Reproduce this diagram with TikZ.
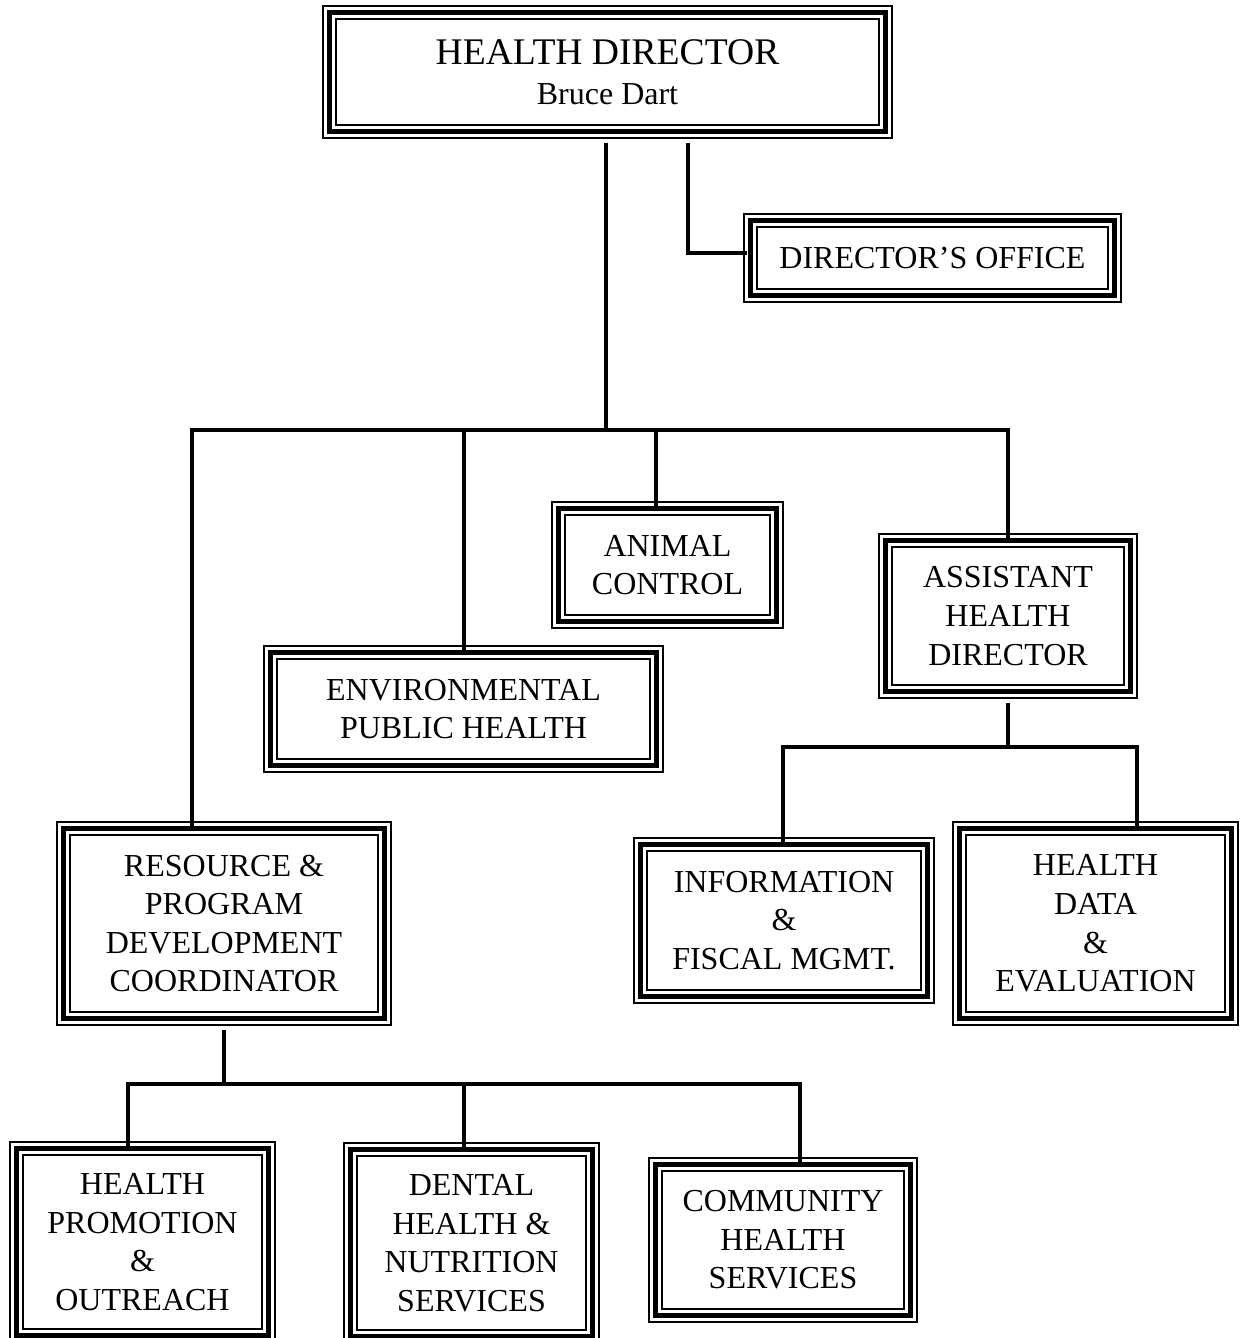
\documentclass[tikz,border=0pt]{standalone}
\usepackage{fontspec}
\setmainfont{Liberation Serif}
\begin{document}
\begin{tikzpicture}[x=0.5pt,y=-0.5pt]
\tikzset{
  frame/.style={draw, line width=0.65pt, rectangle, inner sep=0pt, align=center,
    font=\fontsize{16}{19.3}\selectfont,
    path picture={
      \draw[line width=2.2pt] ([shift={(3.3pt,-3.3pt)}]path picture bounding box.north west) rectangle ([shift={(-3.3pt,3.3pt)}]path picture bounding box.south east);
      \draw[line width=1.1pt] ([shift={(6.6pt,-6.6pt)}]path picture bounding box.north west) rectangle ([shift={(-6.6pt,6.6pt)}]path picture bounding box.south east);
    }},
  conn/.style={line width=1.6pt, line join=miter},
}
\fill[white] (0,0) rectangle (1242,1338);
\useasboundingbox (0,0) rectangle (1242,1338);
\clip (0,0) rectangle (1242,1338);

% boxes
\node[frame, minimum width=284.5pt, minimum height=66pt, font=\fontsize{16}{20}\selectfont] (top) at (607.5,72)
  {{\fontsize{18.8}{20}\selectfont HEALTH DIRECTOR}\\Bruce Dart};
\node[frame, minimum width=188.5pt, minimum height=44pt] (dir) at (932.5,258) {DIRECTOR’S OFFICE};
\node[frame, minimum width=115.5pt, minimum height=63pt] (ac) at (667.5,565) {ANIMAL\\CONTROL};
\node[frame, minimum width=199.5pt, minimum height=63pt] (env) at (463.5,709) {ENVIRONMENTAL\\PUBLIC HEALTH};
\node[frame, minimum width=129pt, minimum height=82pt] (ahd) at (1008,616) {ASSISTANT\\HEALTH\\DIRECTOR};
\node[frame, minimum width=150pt, minimum height=82.5pt] (info) at (784,920.5) {INFORMATION\\\&\\FISCAL MGMT.};
\node[frame, minimum width=142.5pt, minimum height=101.5pt] (hd) at (1095.5,923.5) {HEALTH\\DATA\\\&\\EVALUATION};
\node[frame, minimum width=167pt, minimum height=101.5pt] (res) at (224,923.5) {RESOURCE \&\\PROGRAM\\DEVELOPMENT\\COORDINATOR};
\node[frame, minimum width=132.5pt, minimum height=100pt] (hp) at (142.5,1242) {HEALTH\\PROMOTION\\\&\\OUTREACH};
\node[frame, minimum width=127.5pt, minimum height=100pt] (dent) at (471.5,1243) {DENTAL\\HEALTH \&\\NUTRITION\\SERVICES};
\node[frame, minimum width=134pt, minimum height=82pt] (comm) at (783,1240) {COMMUNITY\\HEALTH\\SERVICES};

% junction coordinates
\coordinate (bus1L) at (192,430);
\coordinate (bus1M) at (606,430);
\coordinate (bus1R) at (1008,430);
\coordinate (envdrop) at (464,430);
\coordinate (acdrop) at (656,430);
\coordinate (dirj) at (688,253);
\coordinate (bus2L) at (783,747);
\coordinate (bus2R) at (1137,747);
\coordinate (bus3L) at (128,1084);
\coordinate (bus3D) at (464,1084);
\coordinate (bus3R) at (800,1084);

% connectors
\draw[conn, shorten <=2pt] (top.south -| bus1M) -- (bus1M);
\draw[conn, shorten <=-3pt, shorten >=-3pt] (res.north -| bus1L) -- (bus1L) -- (bus1R) -- (ahd.north);
\draw[conn, shorten >=-3pt] (envdrop) -- (envdrop |- env.north);
\draw[conn, shorten >=-3pt] (acdrop) -- (acdrop |- ac.north);
\draw[conn, shorten <=2pt, shorten >=-2pt] (top.south -| dirj) -- (dirj) -- (dirj -| dir.west);

\draw[conn, shorten <=2pt] (ahd.south) -- (ahd.south |- bus2L);
\draw[conn, shorten <=-3pt, shorten >=-3pt] (info.north -| bus2L) -- (bus2L) -- (bus2R) -- (bus2R |- hd.north);

\draw[conn, shorten <=2pt] (res.south) -- (res.south |- bus3L);
\draw[conn, shorten <=-3pt, shorten >=-3pt] (bus3L |- hp.north) -- (bus3L) -- (bus3R) -- (bus3R |- comm.north);
\draw[conn, shorten >=-3pt] (bus3D) -- (bus3D |- dent.north);
\end{tikzpicture}
\end{document}
